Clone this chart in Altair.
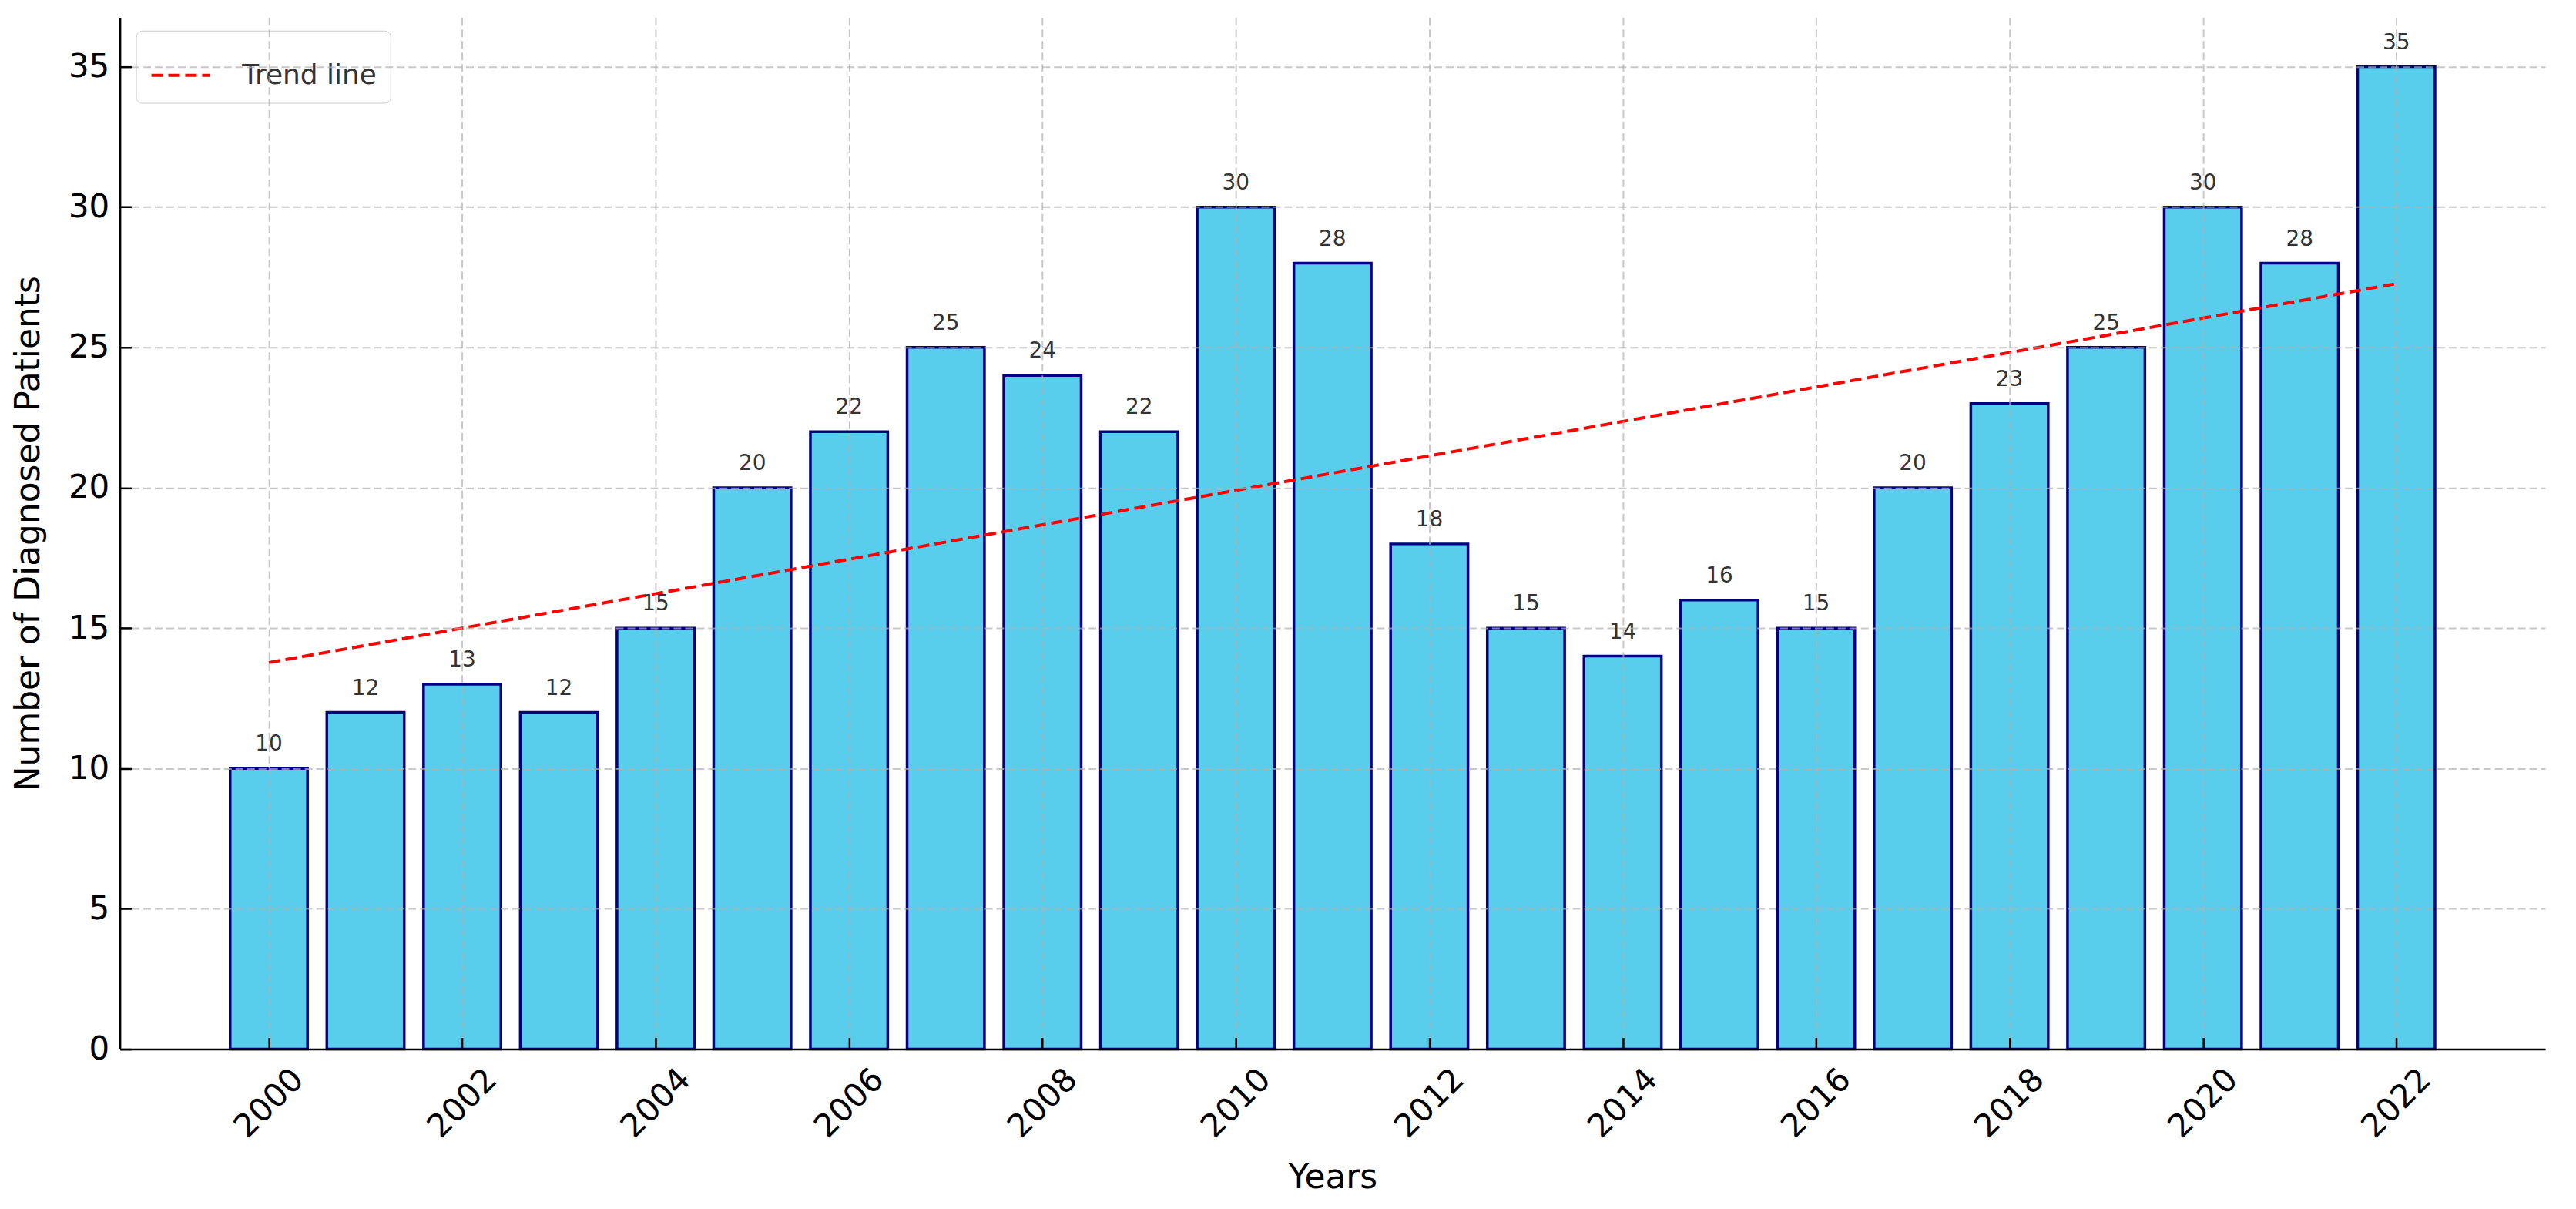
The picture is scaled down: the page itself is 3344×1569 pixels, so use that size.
import altair as alt
import pandas as pd

# ---- data ----
years = [2000, 2001, 2002, 2003, 2004, 2005, 2006, 2007, 2008, 2009, 2010, 2011,
         2012, 2013, 2014, 2015, 2016, 2017, 2018, 2019, 2020, 2021, 2022]
patients = [10, 12, 13, 12, 15, 20, 22, 25, 24, 22, 30, 28,
            18, 15, 14, 16, 15, 20, 23, 25, 30, 28, 35]
x_ticks = [2000, 2002, 2004, 2006, 2008, 2010, 2012, 2014, 2016, 2018, 2020, 2022]
y_ticks = [0, 5, 10, 15, 20, 25, 30, 35]
series_name = ["Trend line"]

df = pd.DataFrame({"year": years, "patients": patients})

W, H = 3156, 1342
FONT = "DejaVu Sans"

xs = alt.Scale(domain=[1998.46, 2023.54], nice=False, zero=False)
ys = alt.Scale(domain=[0, 36.75], nice=False, zero=True)

grid_style = dict(grid=True, gridColor="#b0b0b0", gridOpacity=0.7,
                  gridDash=[10, 5], gridWidth=2)

main_x_axis = alt.Axis(
    values=x_ticks, format="d", orient="bottom", labelAngle=-45, labelAlign="center",
    labelBaseline="middle", labelPadding=70, labelFontSize=42, labelColor="#000000",
    labelFlush=False, labelOverlap=False, ticks=False, tickSize=0,
    domain=True, domainColor="#000000", domainWidth=2.5,
    title="Years", titleFontSize=44, titleFontWeight="normal", titleColor="#000000",
    titleX=W / 2, titleY=167, titleAlign="center", titleBaseline="middle",
    zindex=1, **grid_style)

main_y_axis = alt.Axis(
    values=y_ticks, format="d", orient="left", labelFontSize=42, labelColor="#000000",
    labelPadding=14, labelFlush=False, labelOverlap=False, ticks=False, tickSize=0,
    domain=True, domainColor="#000000", domainWidth=2.5,
    title="Number of Diagnosed Patients", titleFontSize=44, titleFontWeight="normal",
    titleColor="#000000", titleX=-118, titleY=H / 2, titleAngle=-90,
    titleAlign="center", titleBaseline="middle",
    zindex=1, **grid_style)

tick_x_axis = alt.Axis(values=x_ticks, orient="bottom", offset=-15, domain=False,
                       labels=False, grid=False, ticks=True, tickSize=15,
                       tickWidth=2.5, tickColor="#000000", title=None, zindex=1)
tick_y_axis = alt.Axis(values=y_ticks, orient="left", offset=-15, domain=False,
                       labels=False, grid=False, ticks=True, tickSize=15,
                       tickWidth=2.5, tickColor="#000000", title=None, zindex=1)

bars = alt.Chart(df).transform_calculate(
    x0="datum.year - 0.4", x1="datum.year + 0.4"
).mark_bar(fill="#58CEEC", stroke="#000080", strokeWidth=3.5).encode(
    x=alt.X("x0:Q", scale=xs, axis=main_x_axis),
    x2="x1:Q",
    y=alt.Y("patients:Q", scale=ys, axis=main_y_axis),
    y2=alt.datum(0),
)

trend = alt.Chart(df).transform_regression("year", "patients").transform_calculate(
    series="'Trend line'"
).mark_line(strokeDash=[15, 7], strokeWidth=4).encode(
    x=alt.X("year:Q", scale=xs, axis=None),
    y=alt.Y("patients:Q", scale=ys, axis=None),
    color=alt.Color("series:N",
                    scale=alt.Scale(domain=series_name, range=["#ff0000"]),
                    legend=alt.Legend(
                        title=None, orient="none", legendX=21, legendY=17,
                        symbolType="stroke", symbolSize=5776, symbolStrokeWidth=4,
                        symbolDash=[15, 7], symbolStrokeColor="#ff0000",
                        labelFontSize=36, labelColor="#333333", labelOffset=40,
                        labelLimit=500, padding=18, fillColor="#ffffff",
                        strokeColor="#cccccc", cornerRadius=8)),
)

labels = alt.Chart(df).mark_text(
    fontSize=28, color="#333333", baseline="alphabetic", dy=-23, font=FONT
).encode(
    x=alt.X("year:Q", scale=xs, axis=tick_x_axis),
    y=alt.Y("patients:Q", scale=ys, axis=tick_y_axis),
    text="patients:Q",
)

chart = alt.layer(bars, trend, labels).resolve_axis(
    x="independent", y="independent"
).properties(
    width=W, height=H,
    autosize=alt.AutoSizeParams(type="none"),
    padding={"left": 148, "top": 13, "right": 32, "bottom": 190},
).configure(font=FONT).configure_view(stroke=None)

chart.save("out.html", embed_options={"renderer": "svg", "actions": False})
